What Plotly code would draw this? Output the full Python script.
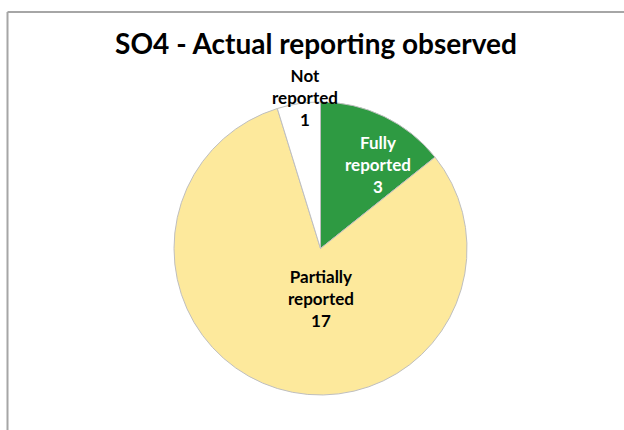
import plotly.graph_objects as go

categories = ["Fully reported", "Partially reported", "Not reported"]
values = [3, 17, 1]
colors = ["#2E9A42", "#FDE99C", "#FFFFFF"]
text_colors = ["#FFFFFF", "#000000", "#000000"]
# label block centres (paper coords) chosen to match the reference layout
label_pos = [(0.696, 0.785), (0.502, 0.331), (0.447, 1.017)]

W, H = 624, 430
L, R, T, B = 174, 157, 102, 35
pw, ph = W - L - R, H - T - B

fig = go.Figure(go.Pie(
    labels=categories, values=values, sort=False, direction="clockwise",
    rotation=0, marker=dict(colors=colors, line=dict(color="#BFBFBF", width=1)),
    textinfo="none", hoverinfo="label+value", showlegend=False,
))

annotations = []
for cat, v, tc, (ax, ay) in zip(categories, values, text_colors, label_pos):
    annotations.append(dict(
        x=ax, y=ay, xref="paper", yref="paper", showarrow=False,
        text="<b>" + "<br>".join(cat.split(" ")) + f"<br>{v}</b>",
        font=dict(family="Lato", size=17, color=tc),
        xanchor="center", yanchor="middle", align="center",
    ))

def px_x(p):
    return (p - L) / pw

def px_y(p):
    return (H - B - p) / ph

shapes = [
    dict(type="line", xref="paper", yref="paper", x0=px_x(7.5), x1=px_x(630),
         y0=px_y(12), y1=px_y(12), line=dict(color="#A6A6A6", width=2)),
    dict(type="line", xref="paper", yref="paper", x0=px_x(7.5), x1=px_x(7.5),
         y0=px_y(12), y1=px_y(440), line=dict(color="#A6A6A6", width=2)),
]

fig.update_layout(
    width=W, height=H, margin=dict(l=L, r=R, t=T, b=B),
    paper_bgcolor="white", plot_bgcolor="white",
    title=dict(text="<b>SO4 - Actual reporting observed</b>", xref="container",
               yref="container", x=316 / W, y=1 - 44 / H, xanchor="center",
               yanchor="middle", font=dict(family="Lato", size=28, color="#000000")),
    annotations=annotations, shapes=shapes,
)

fig.write_html("out.html")
